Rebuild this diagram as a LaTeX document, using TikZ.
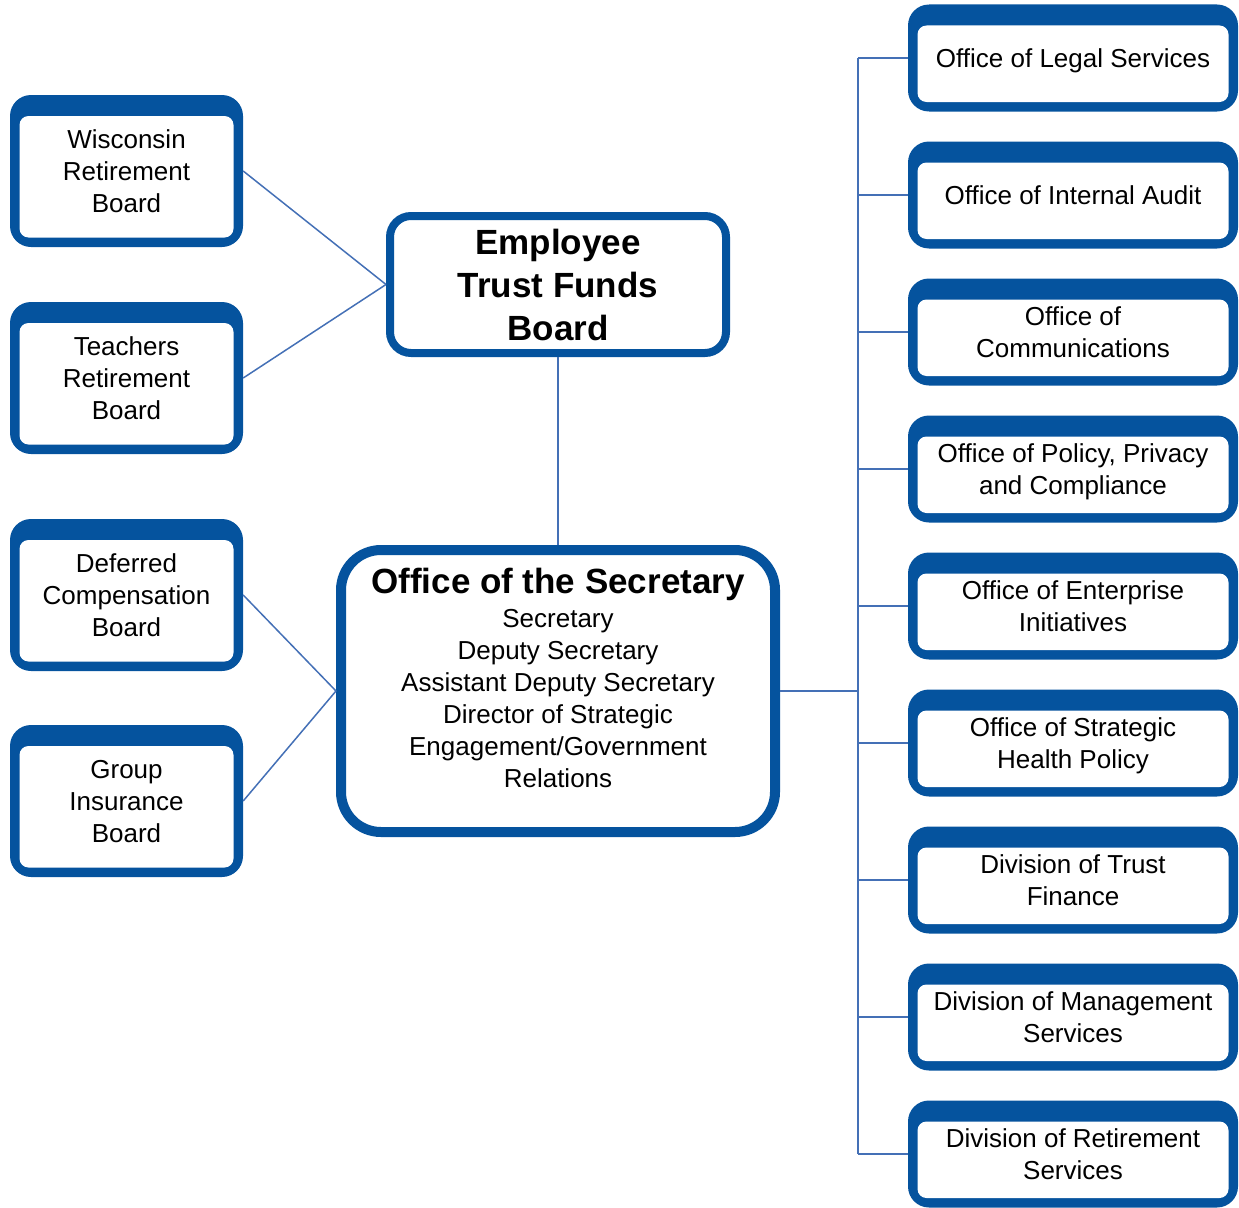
\documentclass[tikz,border=0pt]{standalone}
\usepackage{fontspec}
\setmainfont{Liberation Sans}
\definecolor{boxblue}{RGB}{5,83,158}
\definecolor{lineblue}{RGB}{68,112,182}
\begin{document}
\begin{tikzpicture}[x=1pt,y=-1pt,
  unitbox/.style={fill=boxblue, rounded corners=21pt, inner sep=0pt, align=center,
    font=\fontsize{26}{32}\selectfont,
    path picture={\fill[white, rounded corners=9pt]
      ([xshift=9.5pt,yshift=-21pt]path picture bounding box.north west) rectangle
      ([xshift=-9.5pt,yshift=9.5pt]path picture bounding box.south east);}},
  leftbox/.style={unitbox, minimum width=233pt, minimum height=152pt, text depth=-2pt},
  rightbox/.style={unitbox, minimum width=330pt, minimum height=107pt, text depth=-5pt},
  conn/.style={draw=lineblue, line width=1.5pt}
]
\useasboundingbox (0,0) rectangle (1239,1207);

% left boards
\node[leftbox] (wrb) at (126.5,171) {Wisconsin\\Retirement\\Board};
\node[leftbox] (trb) at (126.5,378) {Teachers\\Retirement\\Board};
\node[leftbox] (dcb) at (126.5,595) {Deferred\\Compensation\\Board};
\node[leftbox] (gib) at (126.5,801) {Group\\Insurance\\Board};

% central boxes
\node[draw=boxblue, fill=white, line width=8pt, rounded corners=21pt,
  minimum width=336pt, minimum height=137pt, inner sep=0pt, align=center,
  font=\fontsize{35}{43}\selectfont\bfseries] (etf) at (558,284.5)
  {Employee\\Trust Funds\\Board};
\node[draw=boxblue, fill=white, line width=10pt, rounded corners=40pt,
  minimum width=434pt, minimum height=282pt, inner sep=0pt] (ofs) at (558,691) {};
\node[anchor=north, inner sep=0pt, align=center, font=\fontsize{26}{32}\selectfont]
  (ofstxt) at (558,568)
  {{\fontsize{35}{32}\selectfont\bfseries Office of the Secretary}\\[2pt]
   Secretary\\Deputy Secretary\\Assistant Deputy Secretary\\Director of Strategic\\
   Engagement/Government\\Relations};

% right units
\node[rightbox] (r1) at (1073,58) {Office of Legal Services};
\node[rightbox] (r2) at (1073,195) {Office of Internal Audit};
\node[rightbox] (r3) at (1073,332) {Office of\\Communications};
\node[rightbox] (r4) at (1073,469) {Office of Policy, Privacy\\and Compliance};
\node[rightbox] (r5) at (1073,606) {Office of Enterprise\\Initiatives};
\node[rightbox] (r6) at (1073,743) {Office of Strategic\\Health Policy};
\node[rightbox] (r7) at (1073,880) {Division of Trust\\Finance};
\node[rightbox] (r8) at (1073,1017) {Division of Management\\Services};
\node[rightbox] (r9) at (1073,1154) {Division of Retirement\\Services};

% connectors
\draw[conn] (wrb.east) -- (etf.west);
\draw[conn] (trb.east) -- (etf.west);
\draw[conn] (dcb.east) -- (ofs.west);
\draw[conn] (gib.east) -- (ofs.west);
\draw[conn] (etf.south) -- (ofs.north);
\coordinate (bus) at (858,691);
\coordinate (bustop) at (858,58);
\coordinate (busbot) at (858,1154);
\draw[conn] (ofs.east) -- (bus);
\draw[conn] (bustop) -- (busbot);
\foreach \n in {r1,r2,r3,r4,r5,r6,r7,r8,r9}
  \draw[conn] (\n.west) -- (\n.west -| bus);
\end{tikzpicture}
\end{document}
